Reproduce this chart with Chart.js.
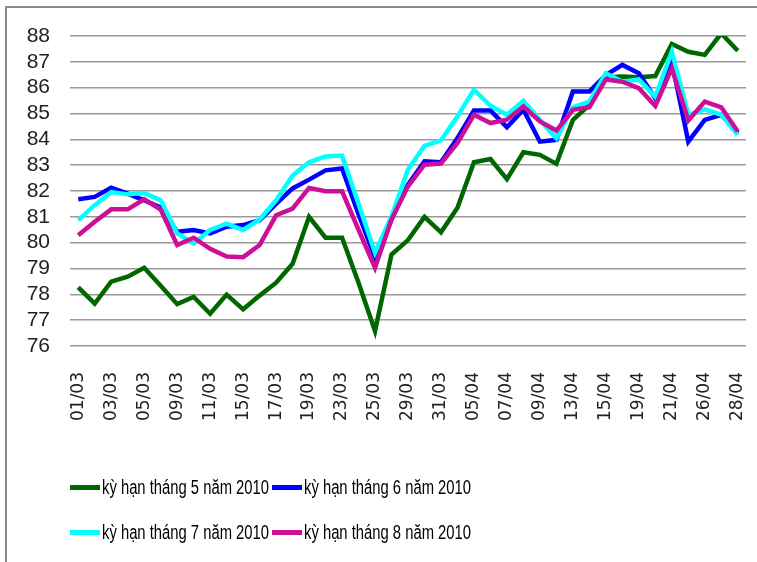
<!DOCTYPE html>
<html>
<head>
<meta charset="utf-8">
<script src="https://cdn.jsdelivr.net/npm/chart.js@4.4.1/dist/chart.umd.min.js"></script>
<style>
    body { margin: 0; background: #fff; }
    #wrap { position: relative; width: 757px; height: 562px; overflow: hidden; }
    #frame { position: absolute; left: 5px; top: 6px; width: 800px; height: 600px;
             border-left: 2px solid #8c8c8c; border-top: 2px solid #8c8c8c; }
    #chart { position: absolute; left: 0; top: 0; }
    #legend { position: absolute; left: 70px; top: 475px; display: grid;
              grid-template-columns: 202px 202px; row-gap: 21px;
              font-family: "Liberation Sans", Arial, sans-serif;
              font-size: 20px; color: #000; }
    .item { display: flex; align-items: center; height: 24px; white-space: nowrap; }
    .swatch { flex: none; width: 30px; height: 5px; margin-right: 2px; }
    .item span.txt { display: inline-block; transform: scaleX(0.74); transform-origin: left center; }
</style>
</head>
<body>
<div id="wrap">
    <div id="frame"></div>
    <canvas id="chart" width="757" height="562"></canvas>
    <div id="legend"></div>
</div>
<script>
var dates = ["01/03","02/03","03/03","04/03","05/03","08/03","09/03","10/03","11/03","12/03",
    "15/03","16/03","17/03","18/03","19/03","22/03","23/03","24/03","25/03","26/03",
    "29/03","30/03","31/03","01/04","05/04","06/04","07/04","08/04","09/04","12/04",
    "13/04","14/04","15/04","16/04","19/04","20/04","21/04","22/04","26/04","27/04","28/04"];

var seriesNames = ["kỳ hạn tháng 5 năm 2010", "kỳ hạn tháng 6 năm 2010",
    "kỳ hạn tháng 7 năm 2010", "kỳ hạn tháng 8 năm 2010"];
var seriesColors = ["#006600", "#0000ff", "#00ffff", "#cc0f96"];

var may = [78.27,77.64,78.49,78.68,79.03,78.33,77.62,77.9,77.25,77.99,
    77.42,77.95,78.45,79.18,81.0,80.19,80.19,78.45,76.58,79.54,
    80.1,81.0,80.4,81.35,83.11,83.24,82.46,83.5,83.4,83.05,
    84.75,85.33,86.4,86.43,86.4,86.45,87.69,87.39,87.27,88.1,87.43];
var june = [81.68,81.77,82.13,81.9,81.64,81.36,80.42,80.49,80.36,80.62,
    80.68,80.87,81.5,82.1,82.44,82.8,82.87,81.1,79.42,80.9,
    82.25,83.15,83.11,84.05,85.12,85.12,84.47,85.15,83.91,83.98,
    85.85,85.85,86.49,86.88,86.56,85.59,87.0,83.91,84.75,84.95,84.24];
var july = [80.87,81.45,81.96,81.87,81.92,81.64,80.36,79.97,80.49,80.74,
    80.49,80.9,81.64,82.6,83.11,83.34,83.37,81.5,79.61,81.02,
    82.83,83.75,83.96,84.89,85.92,85.3,84.95,85.49,84.75,84.04,
    85.24,85.46,86.56,86.23,86.32,85.65,87.39,84.95,85.16,84.95,84.17];
var august = [80.29,80.81,81.29,81.29,81.68,81.28,79.91,80.19,79.76,79.46,
    79.44,79.91,81.06,81.32,82.12,81.99,81.99,80.5,79.03,80.9,
    82.18,83.02,83.06,83.86,84.95,84.63,84.76,85.27,84.69,84.34,
    85.14,85.24,86.32,86.23,85.98,85.29,86.75,84.73,85.46,85.24,84.3];

var yMin = 76, yMax = 88;

var values = [may, june, july, august];
var datasets = [];
for (var i = 0; i < values.length; i++) {
    datasets.push({
        label: seriesNames[i],
        data: values[i],
        borderColor: seriesColors[i],
        backgroundColor: seriesColors[i],
        borderWidth: 4.5,
        pointRadius: 0,
        tension: 0,
        order: values.length - i   // later series drawn on top, like the original
    });
}

var htmlLegend = {
    id: 'htmlLegend',
    afterUpdate: function(chart) {
        var box = document.getElementById('legend');
        box.innerHTML = '';
        chart.data.datasets.forEach(function(ds) {
            var item = document.createElement('div');
            item.className = 'item';
            var sw = document.createElement('span');
            sw.className = 'swatch';
            sw.style.background = ds.borderColor;
            var txt = document.createElement('span');
            txt.className = 'txt';
            txt.textContent = ds.label;
            item.appendChild(sw);
            item.appendChild(txt);
            box.appendChild(item);
        });
    }
};

new Chart(document.getElementById('chart'), {
    type: 'line',
    data: { labels: dates, datasets: datasets },
    plugins: [htmlLegend],
    options: {
        responsive: false,
        animation: false,
        devicePixelRatio: 1,
        layout: { padding: { left: 0, right: 11, top: 36, bottom: 0 } },
        plugins: {
            legend: { display: false },
            tooltip: { enabled: false }
        },
        scales: {
            x: {
                offset: true,
                grid: { display: false, drawTicks: false },
                border: { display: false },
                ticks: {
                    autoSkip: false,
                    maxRotation: 90,
                    minRotation: 90,
                    padding: 26,
                    color: '#222',
                    font: { family: 'DejaVu Sans', size: 17 },
                    callback: function(val, idx) {
                        return idx % 2 === 0 ? this.getLabelForValue(val) : '';
                    }
                },
                afterFit: function(scale) {
                    scale.height = 216;
                    scale.paddingLeft = 0;
                    scale.paddingRight = 0;
                }
            },
            y: {
                min: yMin,
                max: yMax,
                grid: { color: '#9a9a9a', lineWidth: 1.6, drawTicks: false },
                border: { display: false },
                ticks: {
                    stepSize: 1,
                    autoSkip: false,
                    padding: 20,
                    color: '#222',
                    font: { family: '"Liberation Sans", Arial, sans-serif', size: 21 }
                },
                afterFit: function(scale) {
                    scale.width = 70;
                    scale.paddingTop = 0;
                    scale.paddingBottom = 0;
                }
            }
        }
    }
});
</script>
</body>
</html>
